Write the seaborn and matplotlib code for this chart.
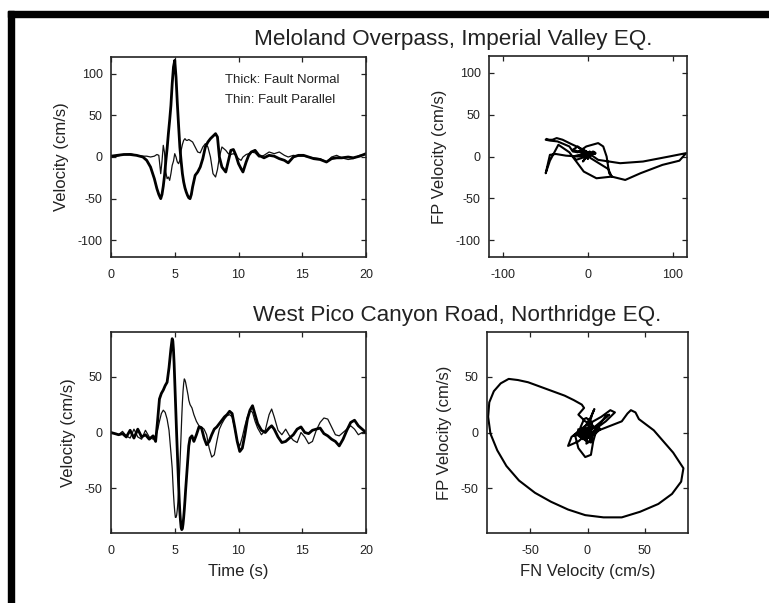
import numpy as np
import pandas as pd
import matplotlib
matplotlib.use("Agg")
import matplotlib.pyplot as plt
from matplotlib.patches import Rectangle
import seaborn as sns

# ---------------- data: Meloland Overpass, Imperial Valley EQ. ----------------
melo_t = [0, 0.5, 1.0, 1.5, 2.0, 2.5, 2.8, 3.1, 3.4, 3.6, 3.75, 3.9, 4.0, 4.1, 4.2,
          4.3, 4.4, 4.5, 4.6, 4.7, 4.8, 4.9, 5.0, 5.1, 5.2, 5.3, 5.4, 5.5, 5.6, 5.7,
          5.8, 5.9, 6.0, 6.1, 6.2, 6.3, 6.4, 6.6, 6.8, 7.0, 7.2, 7.4, 7.6, 7.8, 8.0,
          8.2, 8.35, 8.5, 8.7, 8.85, 9.0, 9.2, 9.4, 9.6, 9.8, 10.0, 10.2, 10.35, 10.6,
          10.8, 11.0, 11.3, 11.6, 12.0, 12.4, 12.8, 13.2, 13.6, 13.9, 14.3, 14.7, 15.1,
          15.5, 15.9, 16.4, 16.9, 17.3, 17.7, 18.1, 18.6, 19.0, 19.5, 20.0]
melo_fn = [1, 2, 3, 3, 2, 0, -4, -12, -26, -38, -45, -50, -45, -35, -22,
           -5, 10, 28, 44, 62, 88, 108, 116, 96, 65, 38, 12, -5, -20, -30,
           -37, -42, -46, -49, -50, -45, -36, -22, -18, -12, -2, 12, 18, 22, 25,
           28, 24, 0, -12, -15, -18, -5, 8, 9, 2, -8, -14, -18, -6,
           2, 6, 8, 2, -1, 2, 1, -2, -4, -7, 0, 2, 2,
           0, -2, -3, -6, -2, -1, -1, 0, -1, 1, 4]
melo_fp = [0, 1, 3, 4, 2, 1, 1, 0, 1, 3, 2, -20, -5, 14, 5,
           -18, -26, -24, -28, -20, -10, -5, 4, 0, -6, -8, -4, 8, 15, 20,
           22, 20, 20, 21, 20, 19, 18, 12, 6, 5, 12, 16, 12, 0, -20,
           -24, -15, 0, 12, 10, 8, 4, 3, 4, 2, -2, -4, 0, 3,
           4, 6, 5, 0, 2, 6, 4, 6, 2, 0, 2, 1, 1,
           0, -1, -2, -6, 0, 2, -1, -3, -2, 2, 3]

# ---------------- data: West Pico Canyon Road, Northridge EQ. ----------------
pico_t = [0, 0.3, 0.6, 0.9, 1.2, 1.5, 1.8, 2.1, 2.4, 2.7, 3.0, 3.3, 3.5, 3.65, 3.8,
          3.95, 4.1, 4.25, 4.4, 4.55, 4.7, 4.8, 4.85, 4.9, 4.95, 5.0, 5.05, 5.1,
          5.15, 5.2, 5.25, 5.3, 5.35, 5.4, 5.45, 5.5, 5.55, 5.6, 5.65, 5.7, 5.75,
          5.8, 5.85, 5.9, 5.95, 6.0, 6.05, 6.1, 6.2, 6.35, 6.5, 6.7, 6.9, 7.1, 7.3,
          7.5, 7.7, 7.9, 8.1, 8.3, 8.5, 8.7, 8.9, 9.1, 9.3, 9.5, 9.7, 9.9, 10.1,
          10.3, 10.5, 10.7, 10.9, 11.1, 11.3, 11.5, 11.8, 12.1, 12.4, 12.6, 12.8,
          13.1, 13.4, 13.7, 14.0, 14.3, 14.6, 14.9, 15.2, 15.5, 15.8, 16.1, 16.4,
          16.7, 17.0, 17.3, 17.6, 17.9, 18.2, 18.5, 18.8, 19.1, 19.4, 19.7, 20.0]
pico_fn = [0, -1, -2, -1, -4, 2, -5, 3, -4, -2, -6, -3, -8, 10, 30,
           35, 38, 42, 45, 58, 75, 84, 82, 74, 62, 46, 30, 14,
           -2, -17, -32, -46, -60, -71, -79, -85, -87, -86, -82, -76, -69,
           -61, -52, -44, -36, -28, -20, -12, -5, -3, -8, -2, 5, 4, -5,
           -11, -8, -2, 3, 5, 8, 11, 14, 16, 19, 17, 5, -8, -17,
           -14, -2, 12, 20, 24, 16, 8, 2, 0, 4, 6, 3,
           -4, -9, -8, -5, -2, 3, 5, 0, -1, 2, 3, 4,
           -1, -3, -6, -8, -12, -6, 2, 9, 11, 6, 3, 0]
pico_fp = [0, -1, -2, 1, -3, -5, 3, -4, -6, 2, -4, -6, -3, 2, 10,
           17, 20, 18, 12, 2, -18, -32, -44, -55, -64, -71, -76, -76,
           -74, -69, -62, -54, -43, -30, -16, -1, 14, 27, 37, 44, 48,
           47, 45, 42, 39, 36, 33, 29, 25, 22, 16, 10, 6, 5, 3,
           -2, -14, -22, -20, -8, 3, 8, 12, 15, 16, 14, 4, -8, -12,
           -4, 6, 14, 20, 18, 10, 4, -2, 2, 16, 21, 14,
           2, -2, 3, -3, -7, -9, 0, -4, -10, -8, 2, 9,
           13, 12, 5, -2, -3, 0, 3, 6, 3, -2, 0, 0]

melo = pd.DataFrame({"t": melo_t, "fn": melo_fn, "fp": melo_fp})
pico = pd.DataFrame({"t": pico_t, "fn": pico_fn, "fp": pico_fp})

titles = ["Meloland Overpass, Imperial Valley EQ.",
          "West Pico Canyon Road, Northridge EQ."]

# ---------------- style ----------------
sns.set_theme(style="ticks")
plt.rcParams["font.family"] = ["Liberation Sans", "DejaVu Sans"]
plt.rcParams.update({
    "axes.unicode_minus": False,
    "xtick.direction": "in", "ytick.direction": "in",
    "xtick.top": True, "ytick.right": True,
    "xtick.major.size": 3.5, "ytick.major.size": 3.5,
    "xtick.major.width": 0.9, "ytick.major.width": 0.9,
    "xtick.major.pad": 9, "ytick.major.pad": 6,
    "xtick.labelsize": 9, "ytick.labelsize": 9,
    "axes.linewidth": 1.2, "axes.edgecolor": "#222222",
    "text.color": "#222222", "axes.labelcolor": "#222222",
    "xtick.color": "#222222", "ytick.color": "#222222",
})

W, H = 769, 603
fig = plt.figure(figsize=(W / 100, H / 100), dpi=100)


def box(l, t, r, b):
    return [l / W, (H - b) / H, (r - l) / W, (b - t) / H]


ax_tl = fig.add_axes(box(111, 57, 366, 257))
ax_tr = fig.add_axes(box(489, 56, 687, 257))
ax_bl = fig.add_axes(box(111, 332, 366, 533))
ax_br = fig.add_axes(box(487, 332, 688, 533))

# time histories: thick = fault normal, thin = fault parallel
for ax, df in [(ax_tl, melo), (ax_bl, pico)]:
    sns.lineplot(data=df, x="t", y="fp", ax=ax, color="#111111", lw=0.9,
                 sort=False, estimator=None)
    sns.lineplot(data=df, x="t", y="fn", ax=ax, color="black", lw=2.0,
                 sort=False, estimator=None)
    ax.set_xlim(0, 20)
    ax.set_xticks([0, 5, 10, 15, 20])
    ax.set_ylabel("Velocity (cm/s)", fontsize=12, labelpad=6)

ax_tl.set_ylim(-120, 120)
ax_tl.set_yticks([-100, -50, 0, 50, 100])
ax_tl.set_xlabel("")
ax_bl.set_ylim(-90, 90)
ax_bl.set_yticks([-50, 0, 50])
ax_bl.set_xlabel("Time (s)", fontsize=12, labelpad=5)

ax_tl.text(0.447, 0.87, "Thick: Fault Normal", transform=ax_tl.transAxes,
           fontsize=9.5)
ax_tl.text(0.447, 0.77, "Thin: Fault Parallel", transform=ax_tl.transAxes,
           fontsize=9.5)

# particle-velocity paths (FN vs FP)
for ax, df in [(ax_tr, melo), (ax_br, pico)]:
    sns.lineplot(data=df, x="fn", y="fp", ax=ax, color="black", lw=1.5,
                 sort=False, estimator=None)
    ax.set_ylabel("FP Velocity (cm/s)", fontsize=12, labelpad=6)

ax_tr.set_xlim(-117, 117)
ax_tr.set_ylim(-120, 120)
ax_tr.set_xticks([-100, 0, 100])
ax_tr.set_yticks([-100, -50, 0, 50, 100])
ax_tr.set_xlabel("")
ax_br.set_xlim(-88, 88)
ax_br.set_ylim(-90, 90)
ax_br.set_xticks([-50, 0, 50])
ax_br.set_yticks([-50, 0, 50])
ax_br.set_xlabel("FN Velocity (cm/s)", fontsize=12, labelpad=5)

for ax in [ax_tl, ax_tr, ax_bl, ax_br]:
    for s in ax.spines.values():
        s.set_visible(True)

fig.text(254 / W, (H - 45) / H, titles[0], fontsize=16.2, ha="left",
         va="baseline")
fig.text(253 / W, (H - 321) / H, titles[1], fontsize=16.2, ha="left",
         va="baseline")

# page frame
fig.patches.append(Rectangle((8 / W, (H - 17) / H), (W - 8) / W, 6 / H,
                             transform=fig.transFigure, color="black",
                             zorder=5))
fig.patches.append(Rectangle((8 / W, 0), 6 / W, (H - 11) / H,
                             transform=fig.transFigure, color="black",
                             zorder=5))

fig.savefig("out.png", dpi=100)
